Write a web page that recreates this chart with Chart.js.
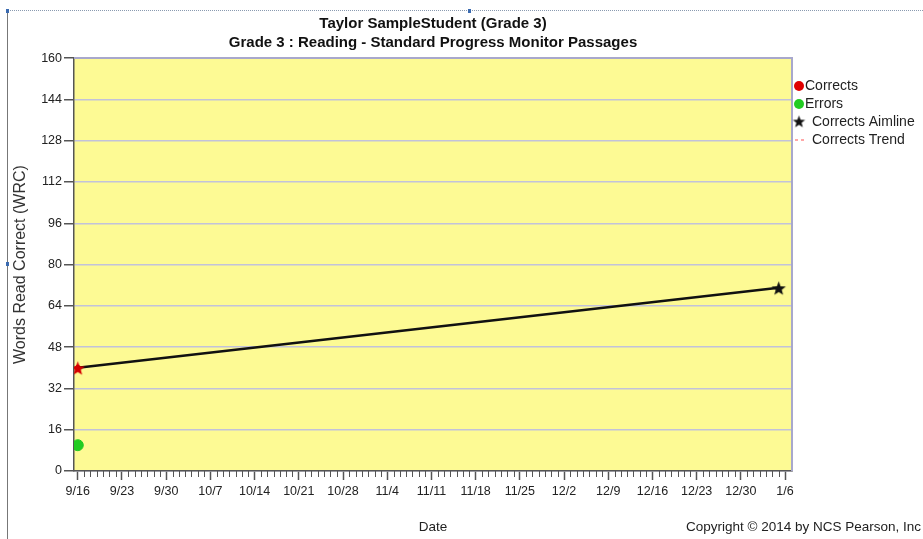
<!DOCTYPE html>
<html>
<head>
<meta charset="utf-8">
<script src="https://cdn.jsdelivr.net/npm/chart.js@4.4.1/dist/chart.umd.min.js"></script>
<style>
  html, body { margin: 0; padding: 0; background: #fff; }
  #wrap { position: relative; width: 923px; height: 539px; }
  #frameTop { position: absolute; left: 8px; top: 10px; width: 915px; height: 0; border-top: 1px dotted #8a9ab0; }
  #frameLeft { position: absolute; left: 7px; top: 10px; width: 0; height: 529px; border-left: 1px solid #777; }
  .h { position: absolute; width: 3px; height: 4px; background: #3a6ab0; }
</style>
</head>
<body>
<div id="wrap">
  <canvas id="c" width="923" height="539"></canvas>
  <div id="frameTop"></div>
  <div id="frameLeft"></div>
  <div class="h" style="left:6px;top:9px"></div>
  <div class="h" style="left:468px;top:9px"></div>
  <div class="h" style="left:6px;top:262px"></div>
</div>
<script>
// ---- data ----
const titleLines = ['Taylor SampleStudent (Grade 3)', 'Grade 3 : Reading - Standard Progress Monitor Passages'];
const tickDays = [0, 7, 14, 21, 28, 35, 42, 49, 56, 63, 70, 77, 84, 91, 98, 105, 112];
const tickLabels = ['9/16', '9/23', '9/30', '10/7', '10/14', '10/21', '10/28', '11/4', '11/11', '11/18', '11/25', '12/2', '12/9', '12/16', '12/23', '12/30', '1/6'];
const yTicks = [0, 16, 32, 48, 64, 80, 96, 112, 128, 144, 160];
const correctsDays = [0];
const correctsValues = [40];
const errorsDays = [0];
const errorsValues = [10];
const aimlineDays = [0, 111];
const aimlineValues = [40, 71];
const trendDays = [];
const trendValues = [];
const seriesNames = ['Corrects', 'Errors', 'Corrects Aimline', 'Corrects Trend'];

function pts(xs, ys) { return xs.map((x, i) => ({ x: x, y: ys[i] })); }

function makeStar(color, r) {
  const s = Math.ceil(r * 2 + 2);
  const cv = document.createElement('canvas');
  cv.width = s; cv.height = s;
  const g = cv.getContext('2d');
  g.fillStyle = color;
  g.beginPath();
  for (let i = 0; i < 10; i++) {
    const rad = i % 2 === 0 ? r : r * 0.42;
    const a = -Math.PI / 2 + i * Math.PI / 5;
    const px = s / 2 + rad * Math.cos(a), py = s / 2 + 1 + rad * Math.sin(a);
    if (i === 0) g.moveTo(px, py); else g.lineTo(px, py);
  }
  g.closePath();
  g.fill();
  return cv;
}
const starBlack = makeStar('#111', 7.5);
const starRed = makeStar('#d40000', 7.5);
const starLegend = makeStar('#111', 6.5);

const FONT = "'Liberation Sans', Arial, sans-serif";

const bgPlugin = {
  id: 'bg',
  beforeDraw(chart) {
    const { ctx, chartArea: a } = chart;
    ctx.save();
    ctx.fillStyle = '#fdfa94';
    ctx.fillRect(a.left, a.top, a.right - a.left, a.bottom - a.top);
    ctx.restore();
  },
  afterDatasetsDraw(chart) {
    const { ctx, chartArea: a } = chart;
    ctx.save();
    ctx.strokeStyle = '#a8a8cc';
    ctx.lineWidth = 2;
    ctx.beginPath();
    ctx.moveTo(a.left, a.top);
    ctx.lineTo(a.right, a.top);
    ctx.lineTo(a.right, a.bottom);
    ctx.stroke();
    ctx.restore();
  },
  afterDraw(chart) {
    const { ctx, chartArea: a } = chart;
    const xs = chart.scales.x;
    ctx.save();
    // minor daily ticks
    ctx.strokeStyle = '#555';
    ctx.lineWidth = 1;
    for (let d = 0; d <= 112; d++) {
      if (tickDays.includes(d)) continue;
      const px = Math.round(xs.getPixelForValue(d)) + 0.5;
      ctx.beginPath();
      ctx.moveTo(px, a.bottom);
      ctx.lineTo(px, a.bottom + 6);
      ctx.stroke();
    }
    // legend
    const lx = a.right + 7;
    const rows = [86, 104, 122, 140];
    ctx.textBaseline = 'middle';
    ctx.textAlign = 'left';
    ctx.fillStyle = '#e00000';
    ctx.beginPath(); ctx.arc(lx, rows[0], 5, 0, Math.PI * 2); ctx.fill();
    ctx.fillStyle = '#22cc22';
    ctx.beginPath(); ctx.arc(lx, rows[1], 5, 0, Math.PI * 2); ctx.fill();
    ctx.drawImage(starLegend, lx - starLegend.width / 2, rows[2] - starLegend.height / 2 - 1);
    ctx.strokeStyle = '#ff5050';
    ctx.lineWidth = 1;
    ctx.setLineDash([3, 3]);
    ctx.beginPath(); ctx.moveTo(lx - 4, rows[3]); ctx.lineTo(lx + 8, rows[3]); ctx.stroke();
    ctx.setLineDash([]);
    ctx.font = '14px ' + FONT;
    ctx.fillStyle = '#222';
    ctx.fillText(seriesNames[0], lx + 6, rows[0]);
    ctx.fillText(seriesNames[1], lx + 6, rows[1]);
    ctx.fillText(seriesNames[2], lx + 13, rows[2]);
    ctx.fillText(seriesNames[3], lx + 13, rows[3]);
    // copyright
    ctx.font = '13.5px ' + FONT;
    ctx.fillStyle = '#222';
    ctx.fillText('Copyright \u00A9 2014 by NCS Pearson, Inc', 686, 527);
    ctx.restore();
  }
};

new Chart(document.getElementById('c'), {
  type: 'scatter',
  data: {
    datasets: [
      { label: seriesNames[0], data: pts(correctsDays, correctsValues), backgroundColor: '#e00000', borderColor: '#e00000', pointRadius: 2.5, order: 2 },
      { label: seriesNames[1], data: pts(errorsDays, errorsValues), backgroundColor: '#22cc22', borderColor: '#22cc22', pointRadius: 5.5, order: 2 },
      { label: seriesNames[2], data: pts(aimlineDays, aimlineValues), showLine: true, borderColor: '#111', borderWidth: 2.5,
        pointStyle: [starRed, starBlack], pointRadius: 7, order: 1 },
      { label: seriesNames[3], data: pts(trendDays, trendValues), showLine: true, borderColor: '#ff5050', borderDash: [3, 3], borderWidth: 1, pointRadius: 0, order: 3 }
    ]
  },
  options: {
    responsive: false,
    animation: false,
    layout: { padding: { left: 10, right: 131, top: 0, bottom: 0 } },
    plugins: {
      legend: { display: false },
      tooltip: { enabled: false },
      title: {
        display: true, text: titleLines, fullSize: false, color: '#111',
        font: { family: FONT, size: 15, weight: 'bold', lineHeight: 1.27 },
        padding: { top: 14.5, bottom: 5.5 }
      }
    },
    scales: {
      x: {
        type: 'linear', min: -0.6, max: 113.1,
        afterFit(s) { s.height = 68; },
        afterBuildTicks(s) { s.ticks = tickDays.map(v => ({ value: v })); },
        ticks: {
          autoSkip: false, maxRotation: 0, padding: 4, color: '#222',
          font: { family: FONT, size: 12.5 },
          callback: (v) => { const i = tickDays.indexOf(v); return i >= 0 ? tickLabels[i] : ''; }
        },
        grid: { drawOnChartArea: false, tickLength: 9, tickColor: '#555', tickWidth: 1.5 },
        border: { color: '#555', width: 1.5 },
        title: { display: true, text: 'Date', color: '#222', font: { family: FONT, size: 13.5 }, padding: { top: 0, bottom: 4 } }
      },
      y: {
        min: 0, max: 160,
        afterFit(s) { s.width = 64; },
        afterBuildTicks(s) { s.ticks = yTicks.map(v => ({ value: v })); },
        ticks: { padding: 2, color: '#222', font: { family: FONT, size: 12.5 } },
        grid: { color: '#c2c2da', lineWidth: 1.5, tickLength: 10, tickColor: '#555', tickWidth: 1.5 },
        border: { color: '#555', width: 1.5 },
        title: { display: true, text: 'Words Read Correct (WRC)', color: '#333', font: { family: FONT, size: 16 }, padding: { top: 1, bottom: 0 } }
      }
    }
  },
  plugins: [bgPlugin]
});
</script>
</body>
</html>
